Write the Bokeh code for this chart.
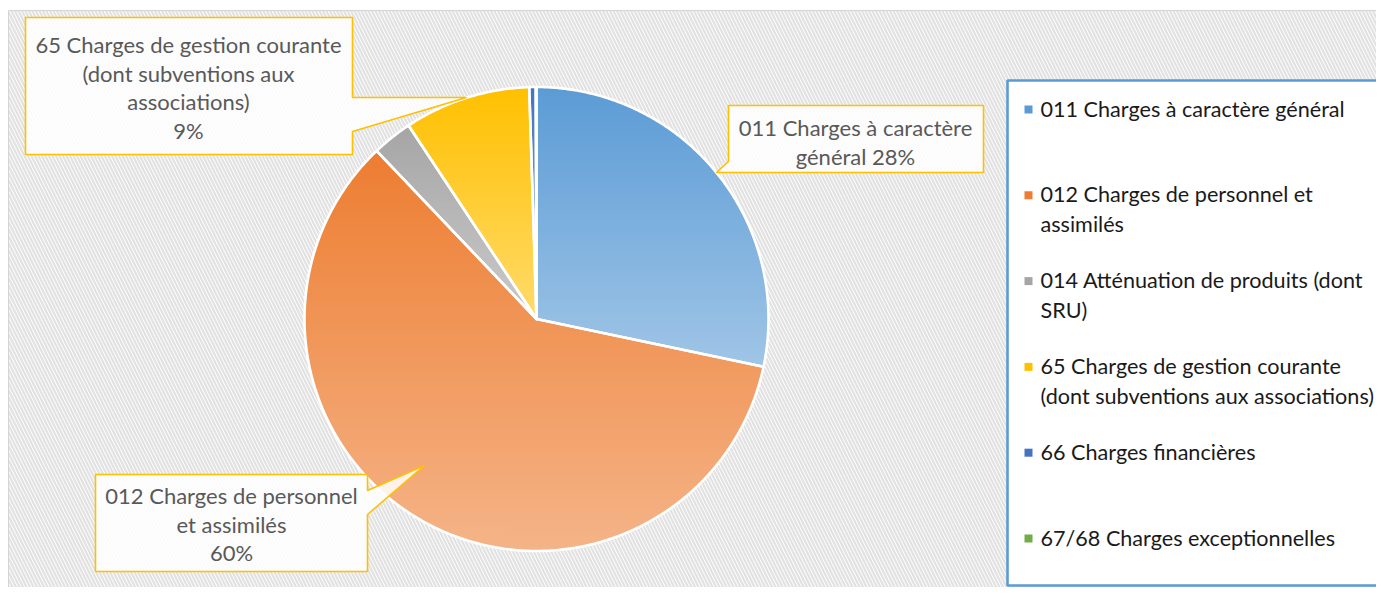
import numpy as np
from bokeh.plotting import figure
from bokeh.models import Range1d
from bokeh.core.properties import value
from bokeh.embed import file_html
from bokeh.resources import INLINE

# ---------------- data ----------------
categories = [
    "011 Charges à caractère général",
    "012 Charges de personnel et assimilés",
    "014 Atténuation de produits (dont SRU)",
    "65 Charges de gestion courante (dont subventions aux associations)",
    "66 Charges financières",
    "67/68 Charges exceptionnelles",
]
shares = [28.3, 59.6, 2.8, 8.8, 0.45, 0.05]          # percent of total
colors = ["#5B9BD5", "#ED7D31", "#A5A5A5", "#FFC000", "#4472C4", "#70AD47"]
legend_lines = [
    ["011 Charges à caractère général"],
    ["012 Charges de personnel et", "assimilés"],
    ["014 Atténuation de produits (dont", "SRU)"],
    ["65 Charges de gestion courante", "(dont subventions aux associations)"],
    ["66 Charges financières"],
    ["67/68 Charges exceptionnelles"],
]
callout_index = [0, 1, 3]
callout_templates = [
    ["011 Charges à caractère", "général {p}"],
    ["012 Charges de personnel", "et assimilés", "{p}"],
    ["65 Charges de gestion courante", "(dont subventions aux", "associations)", "{p}"],
]

# ---------------- layout ----------------
W, H = 1376, 587
p = figure(width=W, height=H, output_backend="svg", toolbar_location=None,
           x_range=Range1d(0, W), y_range=Range1d(H, 0),
           x_axis_type=None, y_axis_type=None, min_border=0)
p.grid.visible = False
p.outline_line_color = None
p.background_fill_color = "white"
p.border_fill_color = "white"

FONT = value("Lato")

# hatched chart area
p.quad(left=[8], right=[1410], top=[10], bottom=[620], fill_color="white",
       hatch_pattern="\\", hatch_color="#e2e2e2", hatch_scale=7, hatch_weight=2.3,
       line_color="#d4d4d4", line_width=1)

# ---------------- pie ----------------
cx, cy, R = 536.0, 318.5, 232.0
total = float(sum(shares))
cum = np.concatenate([[0.0], np.cumsum(shares)]) / total * 2 * np.pi


def wedge_poly(a0, a1):
    n = max(3, int((a1 - a0) * 120))
    t = np.linspace(a0, a1, n)
    xs = [cx] + list(cx + R * np.sin(t))
    ys = [cy] + list(cy - R * np.cos(t))
    return list(zip(xs, ys))


def clip_half(poly, inside, yy):
    out = []
    for i in range(len(poly)):
        cur, prev = poly[i], poly[i - 1]
        def ix(a, b):
            tt = (yy - a[1]) / (b[1] - a[1])
            return (a[0] + tt * (b[0] - a[0]), yy)
        if inside(cur):
            if not inside(prev):
                out.append(ix(prev, cur))
            out.append(cur)
        elif inside(prev):
            out.append(ix(prev, cur))
    return out


def hex2rgb(h):
    h = h.lstrip("#")
    return np.array([int(h[i:i + 2], 16) for i in (0, 2, 4)], dtype=float)


band_xs, band_ys, band_cols = [], [], []
outline_xs, outline_ys = [], []
for i, col in enumerate(colors):
    poly = wedge_poly(cum[i], cum[i + 1])
    outline_xs.append([q[0] for q in poly])
    outline_ys.append([q[1] for q in poly])
    ys_all = [q[1] for q in poly]
    ymin, ymax = min(ys_all), max(ys_all)
    nb = max(1, int((ymax - ymin) / 3))
    edges = np.linspace(ymin, ymax, nb + 1)
    base = hex2rgb(col)
    for k in range(nb):
        y0, y1 = edges[k], edges[k + 1]
        part = clip_half(poly, lambda q: q[1] >= y0 - 0.6, y0 - 0.6)
        if len(part) < 3:
            continue
        part = clip_half(part, lambda q: q[1] <= y1 + 0.6, y1 + 0.6)
        if len(part) < 3:
            continue
        tt = ((y0 + y1) / 2 - ymin) / max(ymax - ymin, 1e-9)
        mix = 0.42 * tt
        rgb = base * (1 - mix) + 255 * mix
        band_xs.append([q[0] for q in part])
        band_ys.append([q[1] for q in part])
        band_cols.append("#%02x%02x%02x" % tuple(int(round(v)) for v in rgb))

p.patches(band_xs, band_ys, fill_color=band_cols, line_color=None)
p.patches(outline_xs, outline_ys, fill_color=None, line_color="white",
          line_width=2.6, line_join="round")

# ---------------- callouts ----------------
call_shapes = [
    # 011
    ([728, 983, 983, 730, 716, 728], [105, 105, 172, 172, 172, 161]),
    # 012
    ([95, 367, 367, 424, 367, 367, 95], [474, 474, 490, 465, 514, 571, 571]),
    # 65
    ([25, 352, 352, 466, 352, 352, 25], [17, 17, 97, 97, 131, 154, 154]),
]
call_anchor = [(855, 127), (231, 495), (188, 44)]
LINE_C = 28.7
p.patches([s[0] for s in call_shapes], [s[1] for s in call_shapes],
          fill_color="white", fill_alpha=0.85, line_color="#FFC000", line_width=1.6)
tx, ty, tt_ = [], [], []
for j, idx in enumerate(callout_index):
    pct = "%d%%" % round(shares[idx] / total * 100)
    for k, line in enumerate(callout_templates[j]):
        tx.append(call_anchor[j][0])
        ty.append(call_anchor[j][1] + k * LINE_C)
        tt_.append(line.format(p=pct))
p.text(x=tx, y=ty, text=tt_, text_font=FONT, text_font_size="22px",
       text_color="#595959", text_align="center", text_baseline="middle")

# ---------------- legend ----------------
p.quad(left=[1007], right=[1410], top=[80], bottom=[585], fill_color="white",
       line_color="#5B9BD5", line_width=2.6)
item_y0, item_dy, line_dy = 108, 85.8, 30
mx, my, lx, ly, lt = [], [], [], [], []
for i, lines in enumerate(legend_lines):
    yy = item_y0 + i * item_dy
    mx.append(1028)
    my.append(yy + 1)
    for k, line in enumerate(lines):
        lx.append(1040)
        ly.append(yy + k * line_dy)
        lt.append(line)
p.rect(x=mx, y=my, width=8, height=8, width_units="screen", height_units="screen",
       fill_color=colors, line_color=None)
p.text(x=lx, y=ly, text=lt, text_font=FONT, text_font_size="21.6px",
       text_color="#1a1a1a", text_align="left", text_baseline="middle")

open("out.html", "w").write(file_html(p, INLINE))
